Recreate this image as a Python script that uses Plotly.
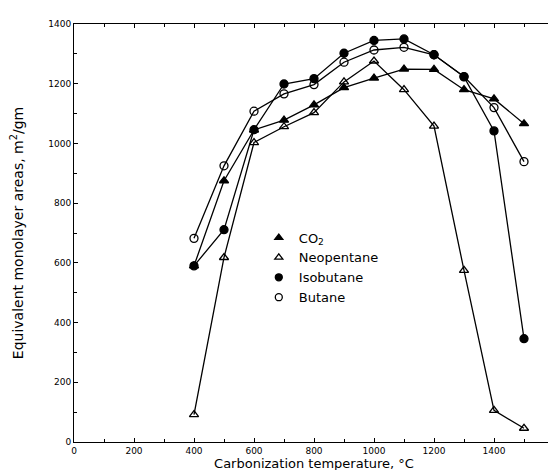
import plotly.graph_objects as go

temps = [400, 500, 600, 700, 800, 900, 1000, 1100, 1200, 1300, 1400, 1500]
co2 = [590, 875, 1045, 1078, 1129, 1187, 1219, 1249, 1248, 1180, 1149, 1066]
neopentane = [92, 618, 1003, 1056, 1103, 1206, 1276, 1180, 1058, 575, 106, 46]
isobutane = [590, 711, 1046, 1199, 1217, 1302, 1345, 1350, 1297, 1223, 1042, 346]
butane = [682, 925, 1108, 1166, 1197, 1272, 1313, 1322, 1297, 1224, 1120, 939]

xticks = [0, 200, 400, 600, 800, 1000, 1200, 1400, 1600]
xticktext = ["0", "200", "400", "600", "800", "1000", "1200", "1400", "1600"]
yticks = [0, 200, 400, 600, 800, 1000, 1200, 1400]
yticktext = ["0", "200", "400", "600", "800", "1000", "1200", "1400"]

series = [
    ("CO<sub>2</sub>", co2, "triangle-up"),
    ("Neopentane", neopentane, "triangle-up-open"),
    ("Isobutane", isobutane, "circle"),
    ("Butane", butane, "circle-open"),
]

fig = go.Figure()
for name, vals, sym in series:
    fig.add_trace(go.Scatter(
        x=temps, y=vals, name=name, mode="lines+markers", showlegend=False,
        line=dict(color="black", width=1.3),
        marker=dict(symbol=sym, size=8, color="black",
                    line=dict(color="black", width=1.3)),
    ))
# legend entries: markers only, as in the reference key
for name, vals, sym in series:
    fig.add_trace(go.Scatter(
        x=[None], y=[None], name=name, mode="markers", showlegend=True,
        marker=dict(symbol=sym, size=7, color="black",
                    line=dict(color="black", width=1.3)),
    ))

fig.update_layout(
    width=556, height=470,
    margin=dict(l=66, r=10, t=16, b=36),
    paper_bgcolor="white", plot_bgcolor="white",
    font=dict(family="DejaVu Sans", color="black", size=9),
    showlegend=True,
    legend=dict(x=0.385, y=0.525, xanchor="left", yanchor="top",
                bgcolor="rgba(0,0,0,0)", font=dict(size=13),
                itemwidth=30, tracegroupgap=0),
    xaxis=dict(range=[0, 1600], tickvals=xticks, ticktext=xticktext,
               automargin=False,
               showgrid=False, zeroline=False, showline=True, linecolor="black",
               linewidth=1, mirror="ticks", ticks="inside", ticklen=4,
               tickcolor="black",
               minor=dict(dtick=100, ticks="inside", ticklen=3, tickcolor="black"),
               title=dict(text="Carbonization temperature, °C", standoff=0,
                          font=dict(size=13))),
    yaxis=dict(range=[0, 1400], tickvals=yticks, ticktext=yticktext,
               automargin=False,
               showgrid=False, zeroline=False, showline=True, linecolor="black",
               linewidth=1, mirror="ticks", ticks="inside", ticklen=4,
               tickcolor="black",
               minor=dict(dtick=100, ticks="inside", ticklen=3, tickcolor="black"),
               title=dict(text="Equivalent monolayer areas, m<sup>2</sup>/gm",
                          standoff=22, font=dict(size=14))),
)

fig.write_html("out.html")
